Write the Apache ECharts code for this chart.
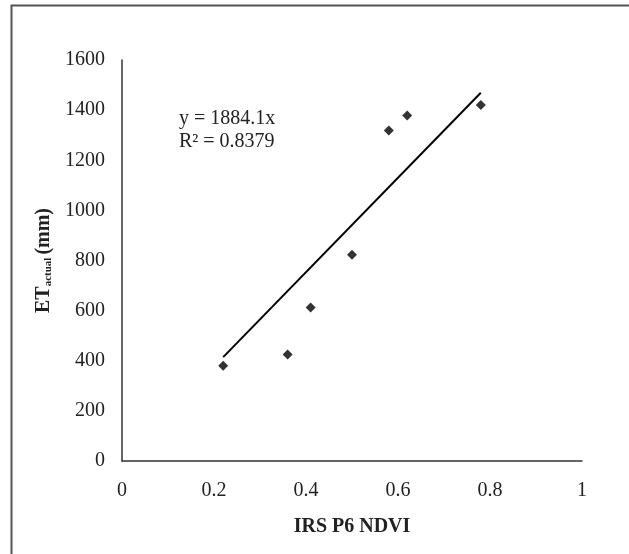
<!DOCTYPE html>
<html>
<head>
<meta charset="utf-8">
<script src="https://cdn.jsdelivr.net/npm/echarts@6/dist/echarts.min.js"></script>
<style>html,body{margin:0;padding:0;background:#fff;}#c{width:629px;height:554px;}</style>
</head>
<body>
<div id="c"></div>
<script>
var ndvi = [0.22, 0.36, 0.41, 0.50, 0.58, 0.62, 0.78];
var etActual = [380, 425, 612, 823, 1319, 1379, 1420];
var trendX = [0.22, 0.78];
var trendY = [414.5, 1469.6];
var xTicks = [0, 0.2, 0.4, 0.6, 0.8, 1];
var yTicks = [0, 200, 400, 600, 800, 1000, 1200, 1400, 1600];
var equationText = 'y = 1884.1x';
var r2Text = 'R\u00b2 = 0.8379';
var xTitle = 'IRS P6 NDVI';

var font = '"Liberation Serif", "Times New Roman", serif';
var chart = echarts.init(document.getElementById('c'), null, {renderer: 'canvas'});
var pts = ndvi.map(function (x, i) { return [x, etActual[i]]; });
var trend = trendX.map(function (x, i) { return [x, trendY[i]]; });

chart.setOption({
  backgroundColor: '#fff',
  animation: false,
  grid: {left: 122, right: 47, top: 60, bottom: 93},
  xAxis: {
    type: 'value', min: xTicks[0], max: xTicks[xTicks.length - 1], interval: 0.2,
    splitLine: {show: false},
    axisTick: {show: false},
    axisLine: {lineStyle: {color: '#333', width: 1.5}},
    axisLabel: {color: '#222', fontFamily: font, fontSize: 20, margin: 20,
      formatter: function (v) { return String(Math.round(v * 10) / 10); }},
    name: xTitle, nameLocation: 'middle', nameGap: 56,
    nameTextStyle: {color: '#222', fontFamily: font, fontSize: 20, fontWeight: 'bold'}
  },
  yAxis: {
    type: 'value', min: yTicks[0], max: yTicks[yTicks.length - 1], interval: 200,
    splitLine: {show: false},
    axisTick: {show: false},
    axisLine: {show: true, lineStyle: {color: '#333', width: 1.5}},
    axisLabel: {color: '#222', fontFamily: font, fontSize: 20, margin: 17,
      formatter: function (v) { return String(v); }},
    name: '{b|ET}{s|actual}{b|(mm)}', nameLocation: 'middle', nameGap: 68, nameRotate: 90,
    nameTextStyle: {
      color: '#222', fontFamily: font, fontSize: 20, fontWeight: 'bold',
      rich: {
        b: {fontFamily: font, fontSize: 20, fontWeight: 'bold', color: '#222'},
        s: {fontFamily: font, fontSize: 11, fontWeight: 'bold', color: '#222', padding: [10, 3, 0, 0]}
      }
    }
  },
  graphic: [
    {type: 'rect', left: 9, top: 3, shape: {width: 640, height: 580},
     style: {fill: 'none', stroke: '#555', lineWidth: 2}, silent: true, z: -1},
    {type: 'text', left: 179, top: 107,
     style: {text: equationText + '\n' + r2Text, font: '20px ' + font, fill: '#222', lineHeight: 23}}
  ],
  series: [
    {type: 'line', data: trend, symbol: 'none', lineStyle: {color: '#000', width: 2}, z: 2},
    {type: 'scatter', data: pts, symbol: 'diamond', symbolSize: 10, itemStyle: {color: '#000'}, z: 3}
  ]
});
</script>
</body>
</html>
